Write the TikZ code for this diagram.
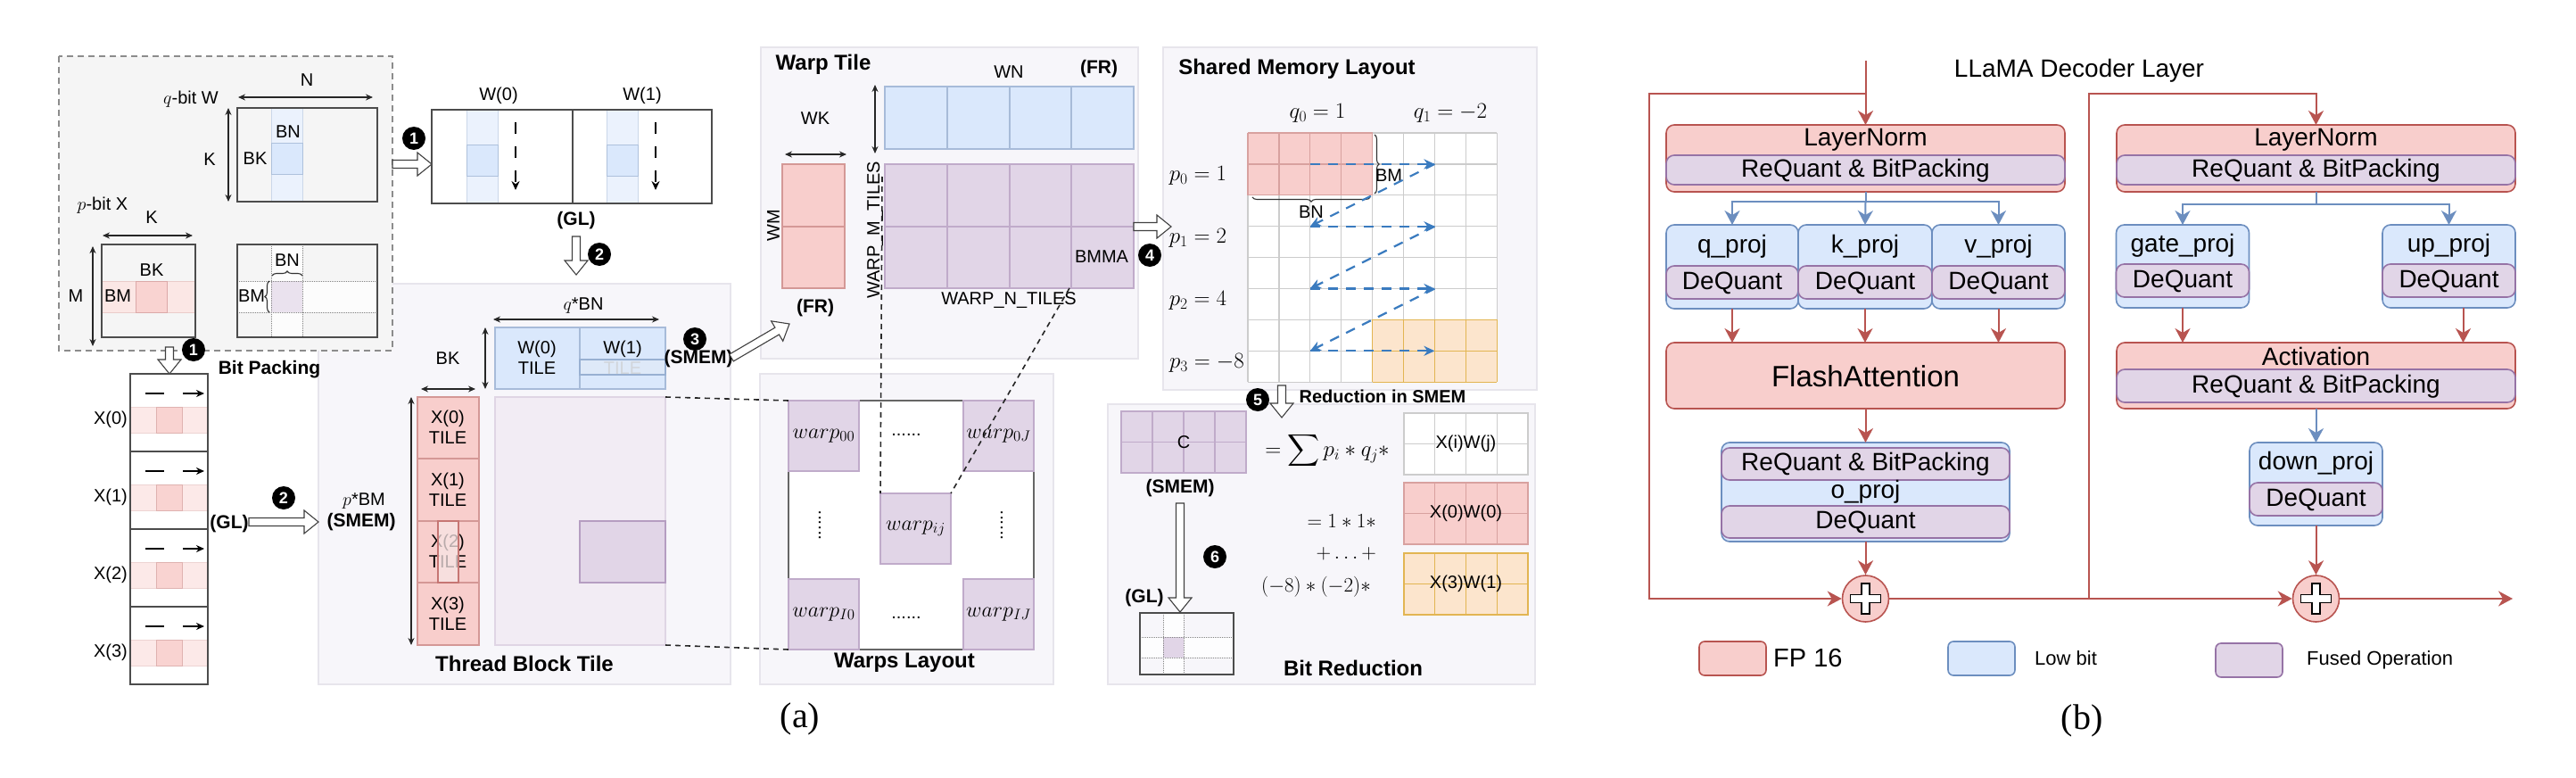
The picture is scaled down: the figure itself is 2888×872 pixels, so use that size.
\RequirePackage{fix-cm}
\documentclass[tikz,border=0pt]{standalone}
\usepackage[no-math]{fontspec}
\setmainfont{Liberation Sans}
\newfontfamily\capfont{Liberation Serif}
\DeclareFontFamily{OMX}{cmex}{}
\DeclareFontShape{OMX}{cmex}{m}{n}{<->cmex10}{}
\usetikzlibrary{arrows.meta,calc,decorations.pathreplacing}
\definecolor{redF}{HTML}{F8CECC}
\definecolor{redD}{HTML}{B85450}
\definecolor{blueF}{HTML}{DAE8FC}
\definecolor{blueD}{HTML}{6C8EBF}
\definecolor{purF}{HTML}{E1D5E7}
\definecolor{purD}{HTML}{9673A6}
\definecolor{yelF}{HTML}{FCE5CD}
\definecolor{yelD}{HTML}{E2B552}
\definecolor{panF}{HTML}{F7F6FA}
\definecolor{panD}{HTML}{E7E5EC}
\definecolor{boxF}{HTML}{F5F5F5}
\definecolor{arrB}{HTML}{3A7BBF}
\newcommand\myfs[1]{\fontsize{#1}{#1}\selectfont}
\newcommand\harrow[2]{%
  \pgfpointdiff{\pgfpointanchor{#1}{center}}{\pgfpointanchor{#2}{center}}%
  \pgfgetlastxy{\hax}{\hay}%
  \pgfmathsetmacro\haang{atan2(\hay,\hax)}%
  \pgfmathsetmacro\halen{veclen(\hax,\hay)}%
  \begin{scope}[shift={(#1)}, rotate=\haang]
    \draw[fill=white, draw=black!75, line width=1.1pt, line join=miter]
      (0,-4.5) -- (\halen-16,-4.5) -- (\halen-16,-13) -- (\halen,0) -- (\halen-16,13) -- (\halen-16,4.5) -- (0,4.5) -- cycle;
  \end{scope}}
\tikzset{
  lab/.style={inner sep=0pt, font=\myfs{20}},
  labt/.style={inner sep=0pt, align=center, font=\fontsize{20}{23}\selectfont},
  blab/.style={inner sep=0pt, font=\myfs{21}\bfseries},
  ttl/.style={inner sep=0pt, font=\myfs{24}\bfseries},
  mth/.style={inner sep=0pt, font=\myfs{25}},
  bl/.style={inner sep=0pt, font=\myfs{28}},
  num/.style={circle, fill=black, text=white, inner sep=0pt, minimum size=26pt, font=\myfs{18}\bfseries},
  dim/.style={{Stealth[length=8pt,width=7pt]}-{Stealth[length=8pt,width=7pt]}, line width=1.2pt, black!85},
  panel/.style={fill=panF, draw=panD, line width=1.3pt},
  mat/.style={draw=black!70, line width=1.4pt},
  gridc/.style={draw=black!20, line width=1.2pt},
  bda/.style={draw=arrB, line width=2.2pt, dash pattern=on 11pt off 9pt, -{Stealth[length=12pt,width=11pt]}},
  dsh/.style={draw=black!85, line width=1.6pt, dash pattern=on 6pt off 5pt},
  brc/.style={decorate, decoration={brace, amplitude=5pt}, line width=1.1pt, black!80},
  pbox/.style={rectangle, rounded corners=9pt, line width=1.6pt, inner sep=0pt, outer sep=0pt},
  fp/.style={pbox, fill=redF, draw=redD},
  lb/.style={pbox, fill=blueF, draw=blueD},
  fu/.style={pbox, fill=purF, draw=purD},
  rarr/.style={draw=redD, line width=2pt, -{Stealth[length=16pt,width=17pt,inset=5pt]}},
  barr/.style={draw=blueD, line width=2pt, -{Stealth[length=16pt,width=17pt,inset=5pt]}},
}
\begin{document}
\begin{tikzpicture}[x=1pt,y=-1pt]
\useasboundingbox (0,0) rectangle (2888,872);
\fill[white] (0,0) rectangle (2888,872);

% panel backgrounds
\draw[panel] (357,318) rectangle (819,767);
\draw[panel] (853,53) rectangle (1276,402);
\draw[panel] (852,419) rectangle (1181,767);
\draw[panel] (1304,53) rectangle (1723,437);
\draw[panel] (1242,453) rectangle (1721,767);

% ================= (a) top-left dashed box =================
\draw[fill=boxF, draw=black!45, line width=1.2pt, dash pattern=on 7pt off 5pt] (66,63) rectangle (440,393);
% W matrix
\fill[blueF!55] (304,121) rectangle (339,226);
\draw[blueD!35, line width=1pt] (304,121) rectangle (339,226);
\draw[fill=blueF, draw=blueD!55, line width=1pt] (304,160) rectangle (339,195);
\draw[mat] (266,121) rectangle (423,226);
\node[lab] (wN) at (344,90) {N};
\draw[dim] (267,109) -- (418,109);
\node[lab] (wq) at (214,111) {$q$-bit W};
\draw[dim] (256,121) -- (256,226);
\node[lab] (wK) at (235,179) {K};
\node[lab] (wBK) at (286,178) {BK};
\node[lab] (wBN) at (323,148) {BN};
% X matrix
\fill[redF!50] (114,315) rectangle (219,350);
\draw[redD!30, line width=1pt] (114,315) rectangle (219,350);
\draw[fill=redF!90, draw=redD!50, line width=1pt] (152,315) rectangle (187,350);
\draw[mat] (114,274) rectangle (219,378);
\node[lab] (xp) at (115,230) {$p$-bit X};
\node[lab] (xK) at (170,244) {K};
\draw[dim] (115,264) -- (216,264);
\draw[dim] (104,276) -- (104,388);
\node[lab] (xM) at (85,332) {M};
\node[lab] (xBK) at (170,303) {BK};
\node[lab] (xBM) at (132,332) {BM};
% result matrix
\fill[white, opacity=0.75] (304,274) rectangle (339,378);
\fill[white, opacity=0.75] (266,315) rectangle (423,350);
\fill[purF!70] (304,315) rectangle (339,350);
\draw[black!50, densely dotted, line width=1pt] (304,274) -- (304,378) (339,274) -- (339,378) (266,315) -- (423,315) (266,350) -- (423,350);
\draw[mat] (266,274) rectangle (423,378);
\draw[brc] (305,309) -- (339,309);
\node[lab] (rBN) at (322,292) {BN};
\draw[brc] (302,350) -- (302,315);
\node[lab] (rBM) at (282,332) {BM};

% step 1 (W)
\coordinate (a1s) at (440,184); \coordinate (a1e) at (484,184);
\harrow{a1s}{a1e}
\node[num] (n1a) at (464,155) {1};
% W(0) W(1) in GL
\fill[white] (484,123) rectangle (798,228);
\foreach \xx in {523,680} {
  \fill[blueF!55] (\xx,123) rectangle (\xx+35,228);
  \draw[blueD!35, line width=1pt] (\xx,123) rectangle (\xx+35,228);
  \draw[fill=blueF, draw=blueD!55, line width=1pt] (\xx,162) rectangle (\xx+35,197);
}
\draw[mat] (484,123) rectangle (798,228);
\draw[mat] (642,123) -- (642,228);
\draw[line width=1.6pt, black, dash pattern=on 13pt off 14pt, -{Stealth[length=10pt,width=9pt]}] (578,137) -- (578,213);
\draw[line width=1.6pt, black, dash pattern=on 13pt off 14pt, -{Stealth[length=10pt,width=9pt]}] (735,137) -- (735,213);
\node[lab] (w0l) at (559,107) {W(0)};
\node[lab] (w1l) at (720,107) {W(1)};
\node[blab] (glw) at (646,247) {(GL)};
\coordinate (a2s) at (646,265); \coordinate (a2e) at (646,308);
\harrow{a2s}{a2e}
\node[num] (n2a) at (672,285) {2};

% step 1 (X) bit packing
\coordinate (b1s) at (190,389); \coordinate (b1e) at (190,419);
\harrow{b1s}{b1e}
\node[num] (n1b) at (217,392) {1};
\node[blab] (bpk) at (302,414) {Bit Packing};
\fill[white] (146,419) rectangle (233,767);
\foreach \k in {0,1,2,3} {
  \pgfmathsetmacro\yy{419+87*\k}
  \fill[redF!45] (146,\yy+37) rectangle (233,\yy+66);
  \draw[redD!25, line width=1pt] (146,\yy+37) rectangle (233,\yy+66);
  \draw[fill=redF!90, draw=redD!45, line width=1pt] (175,\yy+37) rectangle (204,\yy+66);
  \draw[line width=1.5pt] (163,\yy+22) -- (184,\yy+22);
  \draw[line width=1.5pt, -{Stealth[length=9pt,width=8pt]}] (205,\yy+22) -- (229,\yy+22);
  \node[lab] (xl\k) at (124,\yy+51) {X(\k)};
}
\draw[mat] (146,419) rectangle (233,767);
\foreach \yy in {506,593,680} \draw[mat] (146,\yy) -- (233,\yy);
\node[blab] (glx) at (257,587) {(GL)};
\coordinate (b2s) at (279,585); \coordinate (b2e) at (357,585);
\harrow{b2s}{b2e}
\node[num] (n2b) at (318,558) {2};

% ================= Thread block tile =================
\node[lab] (pbm) at (408,562) {$p$*BM};
\node[blab] (pbs) at (405,585) {(SMEM)};
\draw[dim] (461,445) -- (461,723);
\draw[dim] (472,436) -- (533,436);
\node[lab] (tbk) at (502,402) {BK};
\draw[dim] (544,367) -- (544,436);
\draw[dim] (553,358) -- (739,358);
\node[lab] (qbn) at (654,343) {$q$*BN};
% W tiles
\draw[fill=blueF, draw=blueD!60, line width=1.2pt] (555,367) rectangle (746,436);
\draw[blueD!60, line width=1.2pt] (650,367) -- (650,436);
\node[labt] (w0t) at (602,401) {W(0)\\TILE};
\node[labt] (w1t) at (698,401) {W(1)\\\textcolor{black!25}{TILE}};
\draw[fill=blueF!70!blueD!40, fill opacity=0.5, draw=blueD!70, line width=1.2pt] (650,403) rectangle (746,420);
% X tiles
\draw[fill=redF, draw=redD!60, line width=1.2pt] (468,445) rectangle (537,723);
\foreach \yy in {514,584,653} \draw[redD!60, line width=1.2pt] (468,\yy) -- (537,\yy);
\node[labt] (x0t) at (502,479) {X(0)\\TILE};
\node[labt] (x1t) at (502,549) {X(1)\\TILE};
\node[labt] (x2t) at (502,618) {X(2)\\TILE};
\node[labt] (x3t) at (502,688) {X(3)\\TILE};
\draw[fill=redF!70!redD!30, fill opacity=0.75, draw=redD!80, line width=1.2pt] (491,584) rectangle (514,653);
% accumulator
\draw[fill=purF!45, draw=purD!30, line width=1.2pt] (555,445) rectangle (746,723);
\draw[fill=purF, draw=purD!70, line width=1.2pt] (650,584) rectangle (746,653);
\coordinate (tbA) at (746,445); \coordinate (tbB) at (746,723);
\node[ttl] (tbt) at (588,744) {Thread Block Tile};
\node[num] (n3) at (779,380) {3};
\node[blab] (s3) at (783,402) {(SMEM)};

% ================= Warp tile =================
\coordinate (a3s) at (820,401); \coordinate (a3e) at (885,363);
\harrow{a3s}{a3e}
\node[ttl] (wtt) at (923,72) {Warp Tile};
\draw[fill=blueF, draw=blueD!60, line width=1.2pt] (992,97) rectangle (1271,167);
\draw[fill=purF, draw=purD!60, line width=1.2pt] (992,184) rectangle (1271,323);
\foreach \xx in {1062,1132,1201} {
  \draw[blueD!60, line width=1.2pt] (\xx,97) -- (\xx,167);
  \draw[purD!60, line width=1.2pt] (\xx,184) -- (\xx,323);
}
\draw[purD!60, line width=1.2pt] (992,254) -- (1271,254);
\draw[fill=redF, draw=redD!60, line width=1.2pt] (877,184) rectangle (947,323);
\draw[redD!60, line width=1.2pt] (877,254) -- (947,254);
\draw[dim] (880,173) -- (949,173);
\node[lab] (wkl) at (914,133) {WK};
\node[lab, rotate=90] (wml) at (867,253) {WM};
\draw[dim] (981,95) -- (981,172);
\node[lab, rotate=90] (wmt) at (981,258) {WARP\_M\_TILES};
\node[lab] (wnl) at (1131,81) {WN};
\node[blab] (fr1) at (1232,77) {(FR)};
\node[blab] (fr2) at (914,345) {(FR)};
\node[lab] (wnt) at (1131,337) {WARP\_N\_TILES};
\node[lab] (bmma) at (1235,288) {BMMA};
\coordinate (a4s) at (1271,254); \coordinate (a4e) at (1313,254);
\harrow{a4s}{a4e}
\node[num] (n4) at (1289,286) {4};

% ================= Warps layout =================
\draw[fill=white, draw=black!60, line width=1.4pt] (884,449) rectangle (1159,728);
\coordinate (wlA) at (884,449); \coordinate (wlB) at (884,728);
\foreach \nm/\xa/\ya/\tx in {w00/884/449/{00}, w0J/1080/449/{0J}, wI0/884/649/{I0}, wIJ/1080/649/{IJ}, wij/987/553/{ij}} {
  \draw[fill=purF, draw=purD!60, line width=1.2pt] (\xa,\ya) rectangle (\xa+79,\ya+79);
  \node[mth, font=\myfs{24}] (\nm) at (\xa+39.5,\ya+39.5) {$warp_{\tx}$};
}
\node[lab] (dt1) at (1016,487) {......};
\node[lab] (dt2) at (1016,692) {......};
\node[lab, rotate=90] (dt3) at (919,589) {......};
\node[lab, rotate=90] (dt4) at (1123,589) {......};
\node[ttl] (wlt) at (1014,743) {Warps Layout};
\draw[dsh] (tbA) -- (wlA);
\draw[dsh] (tbB) -- (wlB);
\coordinate (wtA) at (989,198); \coordinate (wijA) at (987,553);
\coordinate (wtB) at (1199,323); \coordinate (wijB) at (1066,553);
\draw[dsh] (wtA) -- (wijA);
\draw[dsh] (wtB) -- (wijB);

% ================= Shared memory layout =================
\node[ttl] (smt) at (1454,77) {Shared Memory Layout};
\fill[white] (1399,149) rectangle (1678.2,428.2);
\fill[redF] (1399,149) rectangle (1538.6,218.8);
\fill[yelF] (1538.6,358.4) rectangle (1678.2,428.2);
\foreach \i in {0,...,8} {
  \draw[gridc] (1399+\i*34.9,149) -- (1399+\i*34.9,428.2);
  \draw[gridc] (1399,149+\i*34.9) -- (1678.2,149+\i*34.9);
}
\foreach \i in {0,...,4} \draw[redD!55, line width=1.2pt] (1399+\i*34.9,149) -- ++(0,69.8);
\foreach \j in {0,1,2} \draw[redD!55, line width=1.2pt] (1399,149+\j*34.9) -- ++(139.6,0);
\foreach \i in {4,...,8} \draw[yelD, line width=1.2pt] (1399+\i*34.9,358.4) -- ++(0,69.8);
\foreach \j in {6,7,8} \draw[yelD, line width=1.2pt] (1538.6,149+\j*34.9) -- ++(139.6,0);
\node[mth] (q0) at (1477,127) {$q_0=1$};
\node[mth] (q1) at (1626,127) {$q_1=-2$};
\node[mth] (p0) at (1343,197) {$p_0=1$};
\node[mth] (p1) at (1343,267) {$p_1=2$};
\node[mth] (p2) at (1343,337) {$p_2=4$};
\node[mth] (p3) at (1353,407) {$p_3=-8$};
\draw[brc] (1536,221) -- (1404,221);
\node[lab] (sBN) at (1470,238) {BN};
\draw[brc] (1541,151) -- (1541,217);
\node[lab] (sBM) at (1557,197) {BM};
\draw[bda] (1468.8,183.9) -- (1608.4,183.9);
\draw[bda] (1608.4,183.9) -- (1468.8,253.7);
\draw[bda] (1468.8,253.7) -- (1608.4,253.7);
\draw[bda] (1608.4,253.7) -- (1468.8,323.5);
\draw[bda] (1468.8,323.5) -- (1608.4,323.5);
\draw[bda] (1608.4,323.5) -- (1468.8,393.3);
\draw[bda] (1468.8,393.3) -- (1608.4,393.3);

% ================= Bit reduction =================
\coordinate (a5s) at (1437,432); \coordinate (a5e) at (1437,468);
\harrow{a5s}{a5e}
\node[num] (n5) at (1410,448) {5};
\node[blab, font=\myfs{20}\bfseries] (rsm) at (1550,444) {Reduction in SMEM};
% C
\draw[fill=purF, draw=purD!60, line width=1.2pt] (1257,461) rectangle (1397,530);
\foreach \xx in {1292,1327,1362} \draw[purD!60, line width=1.2pt] (\xx,461) -- (\xx,530);
\draw[purD!60, line width=1.2pt] (1257,495.5) -- (1397,495.5);
\node[lab] (cC) at (1327,496) {C};
\node[blab] (csm) at (1323,547) {(SMEM)};
\coordinate (a6s) at (1323,564); \coordinate (a6e) at (1323,686);
\harrow{a6s}{a6e}
\node[num] (n6) at (1362,624) {6};
\node[blab] (cgl) at (1283,670) {(GL)};
% output matrix
\fill[white, opacity=0.8] (1304,687) rectangle (1327,756);
\fill[white, opacity=0.8] (1278,714) rectangle (1383,737);
\fill[purF] (1304,714) rectangle (1327,737);
\draw[black!50, densely dotted, line width=1pt] (1304,687) -- (1304,756) (1327,687) -- (1327,756) (1278,714) -- (1383,714) (1278,737) -- (1383,737);
\draw[mat] (1278,687) rectangle (1383,756);
% formula
\node[mth] (f1) at (1488,505) {$\displaystyle =\sum p_i * q_j *$};
\node[mth, font=\myfs{23}, anchor=east] (f2) at (1543,584) {$=1*1*$};
\node[mth, font=\myfs{23}, anchor=east] (f3) at (1543,621) {$+\ldots+$};
\node[mth, font=\myfs{23}, anchor=east] (f4) at (1537,658) {$(-8)*(-2)*$};
% XW grids
\foreach \nm/\ya/\fc/\dc/\tx in {xwij/463/white/black!20/X(i)W(j), xw00/541/redF/redD!55/X(0)W(0), xw31/620/yelF/yelD/X(3)W(1)} {
  \draw[fill=\fc, draw=\dc, line width=1.3pt] (1574,\ya) rectangle (1713,\ya+69);
  \foreach \xx in {1608.75,1643.5,1678.25} \draw[\dc, line width=1.3pt] (\xx,\ya) -- (\xx,\ya+69);
  \draw[\dc, line width=1.3pt] (1574,\ya+34.5) -- (1713,\ya+34.5);
  \node[lab] (\nm) at (1643.5,\ya+34.5) {\tx};
}
\node[ttl] (brt) at (1517,749) {Bit Reduction};

\node[font=\capfont\myfs{40}, inner sep=0pt] (capa) at (897,806) {(a)};

% ================= (b) LLaMA decoder layer =================
\node[bl] (ttlb) at (2331,79) {LLaMA Decoder Layer};
% attention block
\node[fp, minimum width=447pt, minimum height=75pt] (ln1) at (2091.5,177.5) {};
\node[fu, minimum width=447pt, minimum height=33pt] (rq1) at (2091.5,190.5) {};
\node[bl] (ln1t) at (2091.5,157) {LayerNorm};
\node[bl] (rq1t) at (2091.5,191) {ReQuant \& BitPacking};
\foreach \nm/\cx/\w/\tx in {qp/1942/148/q\_proj, kp/2091/150/k\_proj, vp/2240.5/149/v\_proj} {
  \node[lb, minimum width=\w pt, minimum height=94pt] (\nm) at (\cx,299) {};
  \node[fu, minimum width=\w pt, minimum height=37pt] (\nm d) at (\cx,316.5) {};
  \node[bl] (\nm t) at (\cx,276) {\tx};
  \node[bl] (\nm dt) at (\cx,317) {DeQuant};
}
\coordinate (br1) at (2091.5,226);
\draw[draw=blueD, line width=2pt] (ln1.south) -- (br1);
\draw[barr] (br1) -| (qp.north);
\draw[barr] (br1) -- (kp.north);
\draw[barr] (br1) -| (vp.north);
\node[fp, minimum width=447pt, minimum height=74pt] (fa) at (2091.5,421) {};
\node[bl, font=\myfs{33}] (fat) at (2091.5,422) {FlashAttention};
\draw[rarr] (qp.south) -- (qp.south |- fa.north);
\draw[rarr] (kp.south) -- (kp.south |- fa.north);
\draw[rarr] (vp.south) -- (vp.south |- fa.north);
\node[lb, minimum width=323pt, minimum height=111pt] (op) at (2091.5,551.5) {};
\node[fu, minimum width=323pt, minimum height=36pt] (opr) at (2091.5,520) {};
\node[fu, minimum width=323pt, minimum height=36pt] (opd) at (2091.5,585) {};
\node[bl] (oprt) at (2091.5,520) {ReQuant \& BitPacking};
\node[bl] (opt) at (2091.5,551) {o\_proj};
\node[bl] (opdt) at (2091.5,585) {DeQuant};
\draw[rarr] (fa.south) -- (op.north);
\node[circle, fill=redF, draw=redD, line width=1.6pt, minimum size=52pt, inner sep=0pt] (pl1) at (2091.5,671) {};
\draw[rarr] (op.south) -- (pl1.north);
% ffn block
\node[fp, minimum width=447pt, minimum height=75pt] (ln2) at (2596.5,177.5) {};
\node[fu, minimum width=447pt, minimum height=33pt] (rq2) at (2596.5,190.5) {};
\node[bl] (ln2t) at (2596.5,157) {LayerNorm};
\node[bl] (rq2t) at (2596.5,191) {ReQuant \& BitPacking};
\foreach \nm/\cx/\tx in {gp/2447/gate\_proj, up/2745.5/up\_proj} {
  \node[lb, minimum width=149pt, minimum height=93pt] (\nm) at (\cx,298.5) {};
  \node[fu, minimum width=149pt, minimum height=37pt] (\nm d) at (\cx,314.5) {};
  \node[bl] (\nm t) at (\cx,275) {\tx};
  \node[bl] (\nm dt) at (\cx,315) {DeQuant};
}
\coordinate (br2) at (2596.5,229);
\draw[draw=blueD, line width=2pt] (ln2.south) -- (br2);
\draw[barr] (br2) -| (gp.north);
\draw[barr] (br2) -| (up.north);
\node[fp, minimum width=447pt, minimum height=74pt] (act) at (2596.5,421) {};
\node[fu, minimum width=447pt, minimum height=37pt] (actr) at (2596.5,432.5) {};
\node[bl] (actt) at (2596.5,399) {Activation};
\node[bl] (actrt) at (2596.5,433) {ReQuant \& BitPacking};
\draw[rarr] (gp.south) -- (gp.south |- act.north);
\draw[rarr] ([xshift=16pt]up.south) -- ([xshift=16pt]up.south |- act.north);
\node[lb, minimum width=149pt, minimum height=93pt] (dp) at (2596.5,542.5) {};
\node[fu, minimum width=149pt, minimum height=37pt] (dpd) at (2596.5,559.5) {};
\node[bl] (dpt) at (2596.5,519) {down\_proj};
\node[bl] (dpdt) at (2596.5,560) {DeQuant};
\draw[barr] (act.south) -- (dp.north);
\node[circle, fill=redF, draw=redD, line width=1.6pt, minimum size=52pt, inner sep=0pt] (pl2) at (2596.5,671) {};
\draw[rarr] (dp.south) -- (pl2.north);
% plus signs
\foreach \p in {pl1,pl2} {
  \draw[fill=white, draw=black, line width=1.5pt] (\p.center) ++(-4.5,-17) -- ++(9,0) -- ++(0,12.5) -- ++(12.5,0) -- ++(0,9) -- ++(-12.5,0) -- ++(0,12.5) -- ++(-9,0) -- ++(0,-12.5) -- ++(-12.5,0) -- ++(0,-9) -- ++(12.5,0) -- cycle;
}
% residual paths
\coordinate (in1) at (2091.5,68);
\coordinate (sk1) at (2091.5,105);
\coordinate (c1) at (1849,671);
\draw[rarr] (in1) -- (ln1.north);
\draw[rarr] (sk1) -| (c1) -- (pl1.west);
\draw[rarr] (pl1.east) -- (pl2.west);
\coordinate (sk2) at (2342,671);
\coordinate (c2) at (2596.5,105);
\draw[rarr] (sk2) |- (c2) -- (ln2.north);
\coordinate (out) at (2817,671);
\draw[rarr] (pl2.east) -- (out);
% legend
\node[fp, rounded corners=6pt, minimum width=75pt, minimum height=38pt] (lg1) at (1942.5,738) {};
\node[bl, font=\myfs{29}, anchor=west] (lg1t) at (1988,738) {FP 16};
\node[lb, rounded corners=6pt, minimum width=75pt, minimum height=38pt] (lg2) at (2221.5,738) {};
\node[bl, font=\myfs{22}, anchor=west] (lg2t) at (2281,738) {Low bit};
\node[fu, rounded corners=6pt, minimum width=75pt, minimum height=38pt] (lg3) at (2521.5,740) {};
\node[bl, font=\myfs{22}, anchor=west] (lg3t) at (2586,740) {Fused Operation};

\node[font=\capfont\myfs{40}, inner sep=0pt] (capb) at (2334,808) {(b)};
\end{tikzpicture}
\end{document}
